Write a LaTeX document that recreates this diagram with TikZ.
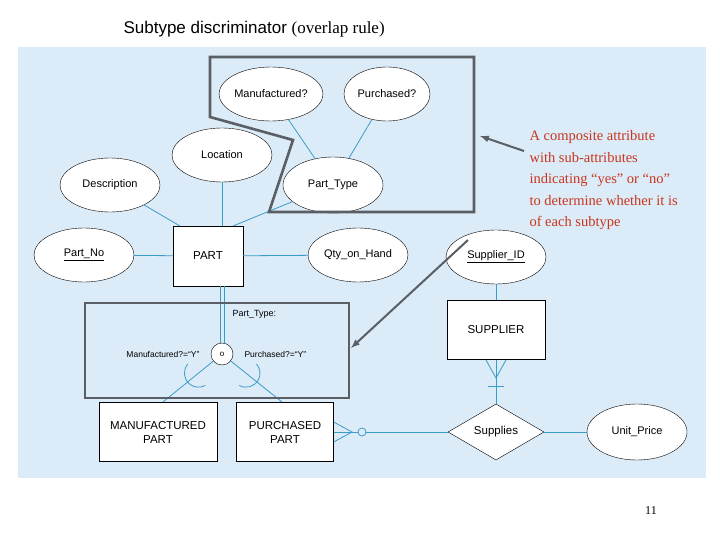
\documentclass[tikz,border=0pt]{standalone}
\usepackage{fontspec}
\setmainfont{Liberation Sans}
\newfontfamily\tnr{Liberation Serif}
\usetikzlibrary{calc,shapes.geometric}
\definecolor{bgblue}{HTML}{DCEBF8}
\definecolor{lnblue}{HTML}{3A9CC8}
\definecolor{boxgray}{HTML}{5A5F66}
\definecolor{notered}{HTML}{C8361E}
\tikzset{
  attr/.style={draw,ellipse,fill=white,minimum width=100pt,minimum height=54pt,inner sep=0pt,font=\fontsize{11}{13}\selectfont},
  ent/.style={draw,fill=white,inner sep=0pt,font=\fontsize{11.5}{14}\selectfont,align=center},
  rel/.style={draw,diamond,fill=white,minimum width=96pt,minimum height=56pt,inner sep=0pt,font=\fontsize{11.5}{14}\selectfont},
  conn/.style={lnblue,line width=0.8pt},
  frame/.style={boxgray,line width=2.6pt},
  pointer/.style={boxgray,line width=2pt,-latex},
}
\begin{document}
\begin{tikzpicture}[x=1pt,y=-1pt]
    \useasboundingbox (0,0) rectangle (720,540);
    \fill[bgblue] (18,47) rectangle (706,478);
    \node[anchor=west,font=\fontsize{17}{20}\selectfont] (title) at (120,29) {Subtype discriminator {\tnr (overlap rule)}};

    % entities and relationship
    \node[ent,minimum width=70pt,minimum height=60pt] (part) at (208,256) {PART};
    \node[ent,minimum width=98pt,minimum height=59pt] (supplier) at (496,330) {SUPPLIER};
    \node[ent,minimum width=118pt,minimum height=59pt] (mpart) at (158,432) {MANUFACTURED\\PART};
    \node[ent,minimum width=97pt,minimum height=59pt] (ppart) at (285,432) {PURCHASED\\PART};
    \node[rel] (supplies) at (496,432) {Supplies};

    % attributes
    \node[attr] (manuf) at (271,94) {Manufactured?};
    \node[attr,minimum width=86pt] (purch) at (387,94) {Purchased?};
    \node[attr] (location) at (222,155) {Location};
    \node[attr] (descr) at (110,185) {Description};
    \node[attr,minimum height=56pt] (ptype) at (333,185) {Part\_Type};
    \node[attr] (partno) at (84,255) {\underline{Part\_No}};
    \node[attr] (qty) at (358,255) {Qty\_on\_Hand};
    \node[attr] (supid) at (496,257) {\underline{Supplier\_ID}};
    \node[attr,minimum height=56pt] (price) at (637,432) {Unit\_Price};

    \draw[conn] (partno) -- (part);
    \draw[conn] (part) -- (qty);
    \draw[conn] (descr) -- (180,226);
    \draw[conn] (location) -- (location |- part.north);
    \draw[conn] (ptype) -- (233,226);
    \draw[conn] (manuf) -- (ptype);
    \draw[conn] (purch) -- (ptype);
    \draw[conn] (supid) -- (supplier);
    \draw[conn] (supplies) -- (price);

    % discriminator circle
    \node[draw,circle,fill=white,minimum size=22pt,inner sep=0pt,font=\fontsize{8}{9}\selectfont] (disc) at (222,354) {o};
    \draw[conn] (220,286) -- (220,343) (224,286) -- (224,343);
    \coordinate (mtop) at (163,402);
    \coordinate (ptop) at (282,402);
    \draw[conn] (disc) -- (mtop);
    \draw[conn] (disc) -- (ptop);
    \foreach \t in {mtop,ptop}
      \draw[conn] let \p1=($(\t)-(disc)$), \n1={-atan2(\y1,\x1)} in
        ($(disc)!0.4!(\t)+(\n1+80:14)$) arc[start angle=\n1+80,end angle=\n1-80,radius=14];

    \node[anchor=west,font=\fontsize{9}{11}\selectfont] (ptlabel) at (229,314) {Part\_Type:};
    \node[anchor=east,font=\fontsize{8.5}{11}\selectfont] (mlabel) at (203,354) {Manufactured?=“Y”};
    \node[anchor=west,font=\fontsize{8.5}{11}\selectfont] (plabel) at (241,354) {Purchased?=“Y”};

    % cardinalities
    \coordinate (sfoot) at (496,378);
    \draw[conn] (supplier.south) -- (supplies.north);
    \draw[conn] (486,360) -- (sfoot) -- (506,360);
    \draw[conn] (488,386) -- (504,386);
    \coordinate (pfoot) at (352,432);
    \draw[conn] (ppart.east) ++(0,-10) -- (pfoot) -- ($(ppart.east)+(0,10)$);
    \draw[conn] (ppart.east) -- (358,432);
    \draw[conn] (362,432) circle (4pt);
    \draw[conn] (366,432) -- (supplies.west);

    % highlight frames
    \draw[frame] (210,57) -- (474,57) -- (474,212) -- (269,212) -- (293,140) -- (210,117) -- cycle;
    \draw[frame] (85,303) rectangle (349,398);

    % note
    \node[anchor=north west,align=left,text=notered,font=\tnr\fontsize{14.5}{21.5}\selectfont] (note) at (526,127)
      {A composite attribute\\with sub-attributes\\indicating “yes” or “no”\\to determine whether it is\\of each subtype};
    \coordinate (tip1) at (480,136);
    \coordinate (tip2) at (351,348);
    \draw[pointer] (524,151) -- (tip1);
    \draw[pointer] (468,240) -- (tip2);
    \node[font=\tnr\fontsize{12}{14}\selectfont] (pagenum) at (651,511) {11};
\end{tikzpicture}
\end{document}
